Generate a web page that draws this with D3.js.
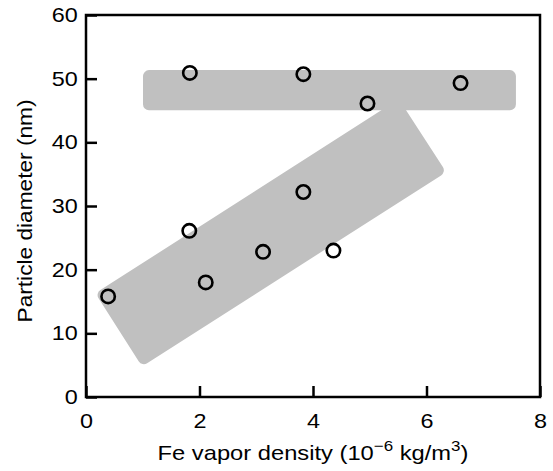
<!DOCTYPE html>
<html>
<head>
<meta charset="utf-8">
<script src="https://cdn.jsdelivr.net/npm/d3@7"></script>
<style>
  body { margin: 0; background: #fff; }
  svg text { font-family: Arial, "Liberation Sans", sans-serif; fill: #000; }
</style>
</head>
<body>
<svg id="chart" width="553" height="471"></svg>
<script>
// measured points: Fe vapor density (1e-6 kg/m3) vs particle diameter (nm)
const density  = [1.83, 3.83, 4.96, 6.60, 0.39, 1.82, 2.11, 3.12, 3.83, 4.36]
const diameter = [50.9, 50.7, 46.1, 49.3, 15.8, 26.1, 18.0, 22.8, 32.2, 23.0]

const xTicks = [0, 2, 4, 6, 8]
const yTicks = [0, 10, 20, 30, 40, 50, 60]

// grey guide bands, corners in data units
const bandFlat   = [[1.11, 50.4], [7.47, 50.4], [7.47, 46.0], [1.11, 46.0]]
const bandTilted = [[0.31, 16.0], [5.48, 45.5], [6.20, 35.6], [1.02, 6.1]]

const margin = {top: 15, right: 13, bottom: 74, left: 86}
const width = 553 - margin.left - margin.right
const height = 471 - margin.top - margin.bottom

const svg = d3.select("#chart")
const g = svg.append("g").attr("transform", `translate(${margin.left},${margin.top})`)

const x = d3.scaleLinear().domain([0, 8]).range([0, width])
const y = d3.scaleLinear().domain([0, 60]).range([height, 0])

const line = d3.line().x(d => x(d[0])).y(d => y(d[1]))

// bands: polygon with a fat round-joined stroke gives the rounded corners
g.selectAll("path.band")
  .data([bandFlat, bandTilted])
  .join("path")
    .attr("class", "band")
    .attr("d", d => line(d) + "Z")
    .attr("fill", "#c0c0c0")
    .attr("stroke", "#c0c0c0")
    .attr("stroke-width", 12)
    .attr("stroke-linejoin", "round")

// axes, ticks pointing inward
const xAxis = g.append("g")
    .attr("transform", `translate(0,${height})`)
    .call(d3.axisBottom(x).tickValues(xTicks).tickSize(-11).tickPadding(17).tickFormat(d3.format("d")))
const yAxis = g.append("g")
    .call(d3.axisLeft(y).tickValues(yTicks).tickSize(-11).tickPadding(7).tickFormat(d3.format("d")))

// the original lettering is a bit wider than Arial, stretch it sideways
;[xAxis, yAxis].forEach(a => {
  a.select(".domain").remove()
  a.selectAll(".tick line").attr("stroke", "#000").attr("stroke-width", 2.5)
  a.selectAll(".tick text")
    .style("font-size", "20px")
    .attr("transform", "scale(1.17,1)")
})

// frame
g.append("rect")
    .attr("width", width)
    .attr("height", height)
    .attr("fill", "none")
    .attr("stroke", "#000")
    .attr("stroke-width", 2.5)

// points
g.selectAll("circle.pt")
  .data(density.map((d, i) => [d, diameter[i]]))
  .join("circle")
    .attr("class", "pt")
    .attr("cx", d => x(d[0]))
    .attr("cy", d => y(d[1]))
    .attr("r", 6.7)
    .attr("fill", "none")
    .attr("stroke", "#000")
    .attr("stroke-width", 2.6)

// axis titles
const xt = svg.append("text")
    .attr("transform", `translate(${margin.left + width / 2},460) scale(1.13,1)`)
    .attr("text-anchor", "middle")
    .style("font-size", "21px")
xt.append("tspan").text("Fe vapor density (10")
xt.append("tspan").attr("dy", -9).style("font-size", "15px").text("\u22126")
xt.append("tspan").attr("dy", 9).text(" kg/m")
xt.append("tspan").attr("dy", -9).style("font-size", "15px").text("3")
xt.append("tspan").attr("dy", 9).text(")")

svg.append("text")
    .attr("transform", `translate(32,211) rotate(-90) scale(1.08,1)`)
    .attr("text-anchor", "middle")
    .style("font-size", "21px")
    .text("Particle diameter (nm)")
</script>
</body>
</html>
